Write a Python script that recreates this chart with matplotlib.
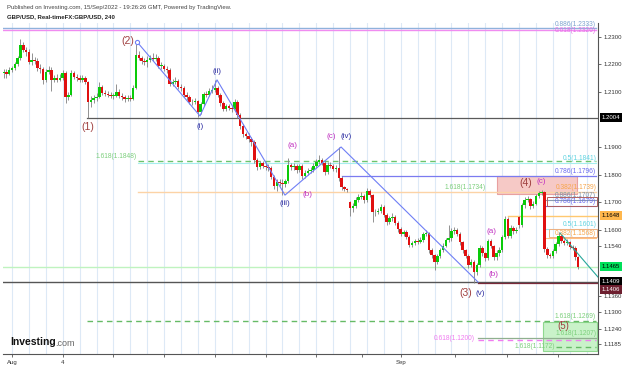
import numpy as np
import matplotlib.pyplot as plt
from matplotlib.patches import Rectangle

plt.rcParams['font.family'] = ['Liberation Sans', 'DejaVu Sans']

# 4H candles, GBP/USD, from the last bars of Jul 29 to Sep 15
first_open = 1.2169
closes = np.array([
    1.2173, 1.2165, 1.2180,
    1.2187, 1.2202, 1.2224, 1.2271, 1.2253, 1.2245,   # Aug 1
    1.2209, 1.2216, 1.2213, 1.2187, 1.2184, 1.2144,
    1.2173, 1.2180, 1.2144, 1.2151, 1.2144, 1.2151,
    1.2169, 1.2082, 1.2089, 1.2169, 1.2155, 1.2151,
    1.2144, 1.2151, 1.2136, 1.2064, 1.2071, 1.2078,
    1.2082, 1.2118, 1.2096, 1.2093, 1.2089, 1.2085,   # Aug 8
    1.2085, 1.2100, 1.2085, 1.2082, 1.2075, 1.2078,
    1.2075, 1.2115, 1.2235, 1.2224, 1.2213, 1.2209,
    1.2216, 1.2224, 1.2220, 1.2224, 1.2195, 1.2195,
    1.2184, 1.2180, 1.2129, 1.2136, 1.2140, 1.2118,
    1.2115, 1.2089, 1.2082, 1.2064, 1.2062, 1.2066,   # Aug 15
    1.2027, 1.2056, 1.2093, 1.2089, 1.2104, 1.2107,
    1.2115, 1.2089, 1.2060, 1.2038, 1.2049, 1.2042,
    1.2038, 1.2064, 1.2016, 1.1976, 1.1947, 1.1940,
    1.1929, 1.1918, 1.1853, 1.1827, 1.1842, 1.1831,
    1.1827, 1.1824, 1.1791, 1.1758, 1.1773, 1.1769,   # Aug 22
    1.1766, 1.1776, 1.1835, 1.1827, 1.1831, 1.1816,
    1.1831, 1.1795, 1.1805, 1.1813, 1.1816, 1.1831,
    1.1845, 1.1853, 1.1842, 1.1809, 1.1835, 1.1831,
    1.1820, 1.1824, 1.1787, 1.1755, 1.1747, 1.1745,
    1.1678, 1.1685, 1.1707, 1.1718, 1.1722, 1.1707,   # Aug 29
    1.1740, 1.1725, 1.1664, 1.1662, 1.1667, 1.1682,
    1.1653, 1.1627, 1.1642, 1.1645, 1.1624, 1.1602,
    1.1584, 1.1591, 1.1573, 1.1544, 1.1551, 1.1558,   # Sep 1
    1.1556, 1.1562, 1.1584, 1.1587, 1.1525, 1.1507,
    1.1482, 1.1504, 1.1525, 1.1540, 1.1562, 1.1569,   # Sep 5
    1.1595, 1.1598, 1.1584, 1.1555, 1.1525, 1.1504,
    1.1471, 1.1482, 1.1445, 1.1471, 1.1533, 1.1515,
    1.1496, 1.1558, 1.1540, 1.1500, 1.1515, 1.1525,
    1.1573, 1.1638, 1.1576, 1.1605, 1.1595, 1.1598,
    1.1616, 1.1689, 1.1707, 1.1711, 1.1685, 1.1693,   # Sep 12
    1.1722, 1.1733, 1.1736, 1.1529, 1.1507, 1.1505,
    1.1522, 1.1547, 1.1576, 1.1558, 1.1551, 1.1555,
    1.1536, 1.1534, 1.1500, 1.1465,
])
highs = np.array([
    1.2185, 1.2182, 1.2190,
    1.2196, 1.2210, 1.2232, 1.2293, 1.2282, 1.2262,
    1.2255, 1.2240, 1.2226, 1.2222, 1.2200, 1.2192,
    1.2185, 1.2195, 1.2190, 1.2160, 1.2165, 1.2165,
    1.2180, 1.2175, 1.2100, 1.2180, 1.2176, 1.2165,
    1.2160, 1.2162, 1.2158, 1.2140, 1.2085, 1.2090,
    1.2095, 1.2135, 1.2125, 1.2108, 1.2102, 1.2100,
    1.2098, 1.2130, 1.2112, 1.2095, 1.2090, 1.2088,
    1.2090, 1.2125, 1.2276, 1.2250, 1.2232, 1.2225,
    1.2230, 1.2236, 1.2240, 1.2238, 1.2230, 1.2210,
    1.2202, 1.2196, 1.2188, 1.2148, 1.2155, 1.2148,
    1.2130, 1.2122, 1.2100, 1.2090, 1.2075, 1.2078,
    1.2072, 1.2065, 1.2100, 1.2105, 1.2115, 1.2125,
    1.2143, 1.2122, 1.2095, 1.2068, 1.2058, 1.2055,
    1.2050, 1.2075, 1.2070, 1.2022, 1.1982, 1.1955,
    1.1950, 1.1935, 1.1925, 1.1860, 1.1850, 1.1850,
    1.1845, 1.1838, 1.1830, 1.1798, 1.1782, 1.1785,
    1.1782, 1.1785, 1.1860, 1.1842, 1.1842, 1.1838,
    1.1840, 1.1838, 1.1815, 1.1822, 1.1826, 1.1842,
    1.1855, 1.1870, 1.1860, 1.1848, 1.1845, 1.1845,
    1.1838, 1.1835, 1.1900, 1.1795, 1.1760, 1.1752,
    1.1705, 1.1698, 1.1720, 1.1728, 1.1735, 1.1730,
    1.1750, 1.1748, 1.1730, 1.1675, 1.1678, 1.1692,
    1.1688, 1.1660, 1.1650, 1.1660, 1.1652, 1.1630,
    1.1610, 1.1600, 1.1598, 1.1580, 1.1560, 1.1566,
    1.1568, 1.1572, 1.1592, 1.1600, 1.1592, 1.1532,
    1.1512, 1.1512, 1.1532, 1.1550, 1.1570, 1.1616,
    1.1605, 1.1610, 1.1605, 1.1590, 1.1560, 1.1530,
    1.1510, 1.1492, 1.1488, 1.1480, 1.1545, 1.1540,
    1.1520, 1.1565, 1.1565, 1.1545, 1.1525, 1.1535,
    1.1580, 1.1650, 1.1645, 1.1615, 1.1612, 1.1608,
    1.1650, 1.1698, 1.1718, 1.1722, 1.1716, 1.1702,
    1.1730, 1.1740, 1.1742, 1.1740, 1.1535, 1.1515,
    1.1530, 1.1555, 1.1590, 1.1582, 1.1565, 1.1565,
    1.1560, 1.1545, 1.1540, 1.1505,
])
lows = np.array([
    1.2150, 1.2152, 1.2160,
    1.2172, 1.2180, 1.2196, 1.2218, 1.2245, 1.2232,
    1.2200, 1.2198, 1.2200, 1.2176, 1.2170, 1.2130,
    1.2138, 1.2165, 1.2104, 1.2135, 1.2138, 1.2140,
    1.2145, 1.2060, 1.2070, 1.2085, 1.2148, 1.2140,
    1.2135, 1.2138, 1.2128, 1.2004, 1.2045, 1.2060,
    1.2068, 1.2078, 1.2090, 1.2085, 1.2080, 1.2078,
    1.2076, 1.2080, 1.2078, 1.2070, 1.2065, 1.2068,
    1.2066, 1.2070, 1.2110, 1.2215, 1.2200, 1.2198,
    1.2190, 1.2210, 1.2212, 1.2212, 1.2186, 1.2185,
    1.2175, 1.2168, 1.2120, 1.2122, 1.2128, 1.2110,
    1.2104, 1.2080, 1.2072, 1.2055, 1.2052, 1.2055,
    1.2010, 1.2020, 1.2050, 1.2080, 1.2085, 1.2098,
    1.2100, 1.2080, 1.2050, 1.2030, 1.2032, 1.2034,
    1.2028, 1.2032, 1.2005, 1.1965, 1.1938, 1.1930,
    1.1920, 1.1905, 1.1842, 1.1815, 1.1820, 1.1822,
    1.1818, 1.1812, 1.1782, 1.1748, 1.1740, 1.1760,
    1.1727, 1.1755, 1.1770, 1.1818, 1.1818, 1.1805,
    1.1808, 1.1782, 1.1788, 1.1798, 1.1805, 1.1810,
    1.1825, 1.1840, 1.1835, 1.1800, 1.1802, 1.1822,
    1.1812, 1.1810, 1.1778, 1.1745, 1.1740, 1.1738,
    1.1648, 1.1665, 1.1678, 1.1700, 1.1710, 1.1698,
    1.1700, 1.1718, 1.1627, 1.1650, 1.1655, 1.1660,
    1.1645, 1.1618, 1.1620, 1.1632, 1.1615, 1.1592,
    1.1575, 1.1578, 1.1565, 1.1535, 1.1538, 1.1545,
    1.1548, 1.1550, 1.1555, 1.1575, 1.1515, 1.1498,
    1.1453, 1.1475, 1.1498, 1.1518, 1.1535, 1.1555,
    1.1560, 1.1585, 1.1575, 1.1545, 1.1515, 1.1495,
    1.1460, 1.1462, 1.1406, 1.1435, 1.1465, 1.1505,
    1.1485, 1.1490, 1.1532, 1.1490, 1.1490, 1.1505,
    1.1518, 1.1565, 1.1568, 1.1570, 1.1585, 1.1588,
    1.1605, 1.1610, 1.1680, 1.1700, 1.1675, 1.1678,
    1.1688, 1.1715, 1.1725, 1.1520, 1.1495, 1.1495,
    1.1498, 1.1515, 1.1540, 1.1550, 1.1542, 1.1545,
    1.1528, 1.1525, 1.1490, 1.1458,
])
gap_opens = {123: 1.1700, 183: 1.1645}

# Elliott wave pivots (trading days since Aug 1)
wave_days = [7.40, 11.12, 12.13, 16.15, 19.47, 27.57]
wave_prices = [1.2282, 1.2013, 1.2144, 1.1725, 1.1900, 1.1409]
trend_days = [32.43, 34.67]
trend_prices = [1.1587, 1.1427]

xtick_days = [0, 3, 6, 9, 12, 15, 18, 20.7, 23, 26.2, 29.3, 32.3]
xtick_labels = ['Aug', '4', '', '', '', '', '', '', 'Sep', '', '', '']
ytick_prices = [1.2300, 1.2200, 1.2100, 1.1900, 1.1800, 1.1700, 1.1600,
                1.1540, 1.1360, 1.1300, 1.1240, 1.1185]

# horizontal levels: price, start day, end day, colour, style, width
levels = [
    (1.2333, -0.6, 34.56, '#8fb2dc', '-', 1.0),
    (1.2326, -0.6, 34.56, '#f08cf0', '-', 1.0),
    (1.2004, 4.44, 34.7, '#5a5a5a', '-', 0.9),
    (1.1848, 7.46, 34.56, '#6cc46c', (0, (4, 3)), 1.0),
    (1.1841, 7.46, 34.56, '#a6eeee', '-', 0.8),
    (1.1737, 7.46, 34.56, '#fcd3a6', '-', 1.0),
    (1.1796, 19.53, 34.56, '#7b7bf0', '-', 0.9),
    (1.1707, 31.6, 34.56, '#8a9ab0', '-', 0.8),
    (1.1687, 31.6, 34.56, '#6a6af0', '-', 0.8),
    (1.1648, 29.35, 34.7, '#ffc870', '-', 1.0),
    (1.1601, 31.6, 34.56, '#9ae6f0', '-', 0.8),
    (1.1568, 31.6, 34.56, '#ffbf80', '-', 0.8),
    (1.1465, -0.6, 34.7, '#bff3bf', '-', 1.0),
    (1.1409, -0.6, 34.7, '#555555', '-', 1.0),
    (1.1404, 27.57, 34.7, '#7a2a3a', '-', 0.9),
    (1.1269, 4.44, 34.56, '#66bb66', (0, (4, 3)), 1.0),
    (1.1207, 27.57, 34.56, '#8fb08f', '-', 0.9),
    (1.1200, 27.57, 34.56, '#f07cf0', (0, (4, 3)), 1.0),
    (1.1172, 32.19, 34.56, '#66bb66', (0, (4, 3)), 1.0),
]
level_texts = [
    ('0.886(1.2333)', 34.56, 1.2334, '#7ea3cf', 'right', 'bottom'),
    ('0.618(1.2326)', 34.56, 1.2323, '#e86ee8', 'right', 'center'),
    ('1.618(1.1848)', 7.35, 1.1851, '#7ccf7c', 'right', 'bottom'),
    ('0.5(1.1841)', 34.56, 1.1844, '#5fd3e0', 'right', 'bottom'),
    ('0.786(1.1796)', 34.56, 1.1799, '#6a6af0', 'right', 'bottom'),
    ('1.618(1.1734)', 26.8, 1.1739, '#7ccf7c', 'center', 'bottom'),
    ('0.382(1.1739)', 34.56, 1.1740, '#f7a54a', 'right', 'bottom'),
    ('0.886(1.1707)', 34.56, 1.1710, '#7890a8', 'right', 'bottom'),
    ('0.786(1.1679)', 34.56, 1.1690, '#6a6af0', 'right', 'bottom'),
    ('0.5(1.1601)', 34.56, 1.1604, '#5fd3e0', 'right', 'bottom'),
    ('0.382(1.1568)', 34.56, 1.1572, '#f7a54a', 'right', 'bottom'),
    ('1.618(1.1269)', 34.56, 1.1272, '#7ccf7c', 'right', 'bottom'),
    ('1.618(1.1207)', 34.56, 1.1208, '#7ccf7c', 'right', 'bottom'),
    ('0.618(1.1200)', 27.4, 1.1205, '#f07cf0', 'right', 'center'),
    ('1.618(1.1172)', 32.15, 1.1175, '#7ccf7c', 'right', 'center'),
]
wave_texts = [
    ('(1)', 4.5, 1.1973, '#a04040', 7.5), ('(2)', 6.86, 1.2285, '#a04040', 7.5),
    ('(3)', 26.86, 1.1369, '#a04040', 7.5), ('(4)', 30.4, 1.1769, '#a04040', 7.5),
    ('(5)', 32.6, 1.1250, '#a04040', 7.0),
    ('(i)', 11.12, 1.1976, '#2b2ba0', 5.8), ('(ii)', 12.13, 1.2173, '#2b2ba0', 5.8),
    ('(iii)', 16.15, 1.1693, '#2b2ba0', 5.8), ('(iv)', 19.75, 1.1940, '#2b2ba0', 5.8),
    ('(v)', 27.68, 1.1369, '#2b2ba0', 5.8),
    ('(c)', 18.9, 1.1940, '#c030c0', 5.8), ('(a)', 16.57, 1.1907, '#c030c0', 5.8),
    ('(b)', 17.46, 1.1729, '#c030c0', 5.8), ('(a)', 28.34, 1.1591, '#c030c0', 5.8),
    ('(b)', 28.5, 1.1438, '#c030c0', 5.8), ('(c)', 31.3, 1.1776, '#c030c0', 5.8),
]
axis_boxes = [
    ('1.2004', 1.2007, '#000000', 'white'),
    ('1.1648', 1.1651, '#ffb74d', 'black'),
    ('1.1465', 1.1466, '#00e05a', 'black'),
    ('1.1409', 1.1410, '#000000', 'white'),
    ('1.1406', 1.1381, '#6d1f2f', 'white'),
]

W, H = 625, 366
fig = plt.figure(figsize=(W / 100, H / 100), dpi=100)
ax = fig.add_axes([3 / W, 12 / H, 595 / W, 331 / H])

n = len(closes)
days = (np.arange(n) - 3) / 6.0
opens = np.r_[first_open, closes[:-1]]
for k, v in gap_opens.items():
    opens[k] = v
highs = np.maximum(highs, np.maximum(opens, closes))
lows = np.minimum(lows, np.minimum(opens, closes))

for d in range(0, 35):
    ax.axvline(d, color='#dde9f6', lw=0.8, zorder=0)

up = closes >= opens
body = np.maximum(np.abs(closes - opens), 0.00025)
ax.vlines(days, lows, highs, color='#808080', lw=0.6, zorder=3)
ax.bar(days[up], body[up], bottom=opens[up], width=0.15, color='#0acb0a', zorder=4)
ax.bar(days[~up], body[~up], bottom=closes[~up], width=0.15, color='#e01010', zorder=4)

for p, x0, x1, c, ls, lw in levels:
    ax.plot([x0, x1], [p, p], color=c, ls=ls, lw=lw, zorder=2)
for t, x, y, c, ha, va in level_texts:
    ax.text(x, y, t, color=c, ha=ha, va=va, fontsize=4.8, zorder=6)

ax.add_patch(Rectangle((28.70, 1.1730), 33.43 - 28.70, 1.1796 - 1.1730,
                       fc='#f6c9c6', ec='#e8a0a0', lw=0.8, zorder=1))
ax.add_patch(Rectangle((31.42, 1.1160), 34.62 - 31.42, 1.1264 - 1.1160,
                       fc='#c9f2c9', ec='#8fd88f', lw=0.8, zorder=1))
ax.add_patch(Rectangle((31.66, 1.1685), 34.62 - 31.66, 1.1718 - 1.1685,
                       fc='none', ec='#b06060', lw=0.7, zorder=2))
ax.add_patch(Rectangle((31.75, 1.1573), 34.62 - 31.75, 1.1602 - 1.1573,
                       fc='none', ec='#f0b080', lw=0.7, zorder=2))

ax.plot(wave_days, wave_prices, color='#6f7ff5', lw=0.8, zorder=5)
ax.plot(wave_days[0], wave_prices[0], 'o', mfc='white', mec='#6f7ff5', ms=3, mew=0.8, zorder=6)
ax.plot(trend_days, trend_prices, color='#26a69a', lw=0.8, zorder=5)

for t, x, y, c, fs in wave_texts:
    ax.text(x, y, t, color=c, ha='center', va='center', fontsize=fs, zorder=7)

ax.set_xlim(-0.533, 34.67)
ax.set_ylim(1.11473, 1.23509)
ax.yaxis.tick_right()
ax.set_yticks(ytick_prices)
ax.set_yticklabels([f'{p:.4f}' for p in ytick_prices])
ax.set_xticks(xtick_days)
ax.set_xticklabels(xtick_labels)
ax.tick_params(axis='both', labelsize=4.3, colors='#555555', labelcolor='#333333',
               length=2.5, width=0.6, pad=1.5)
for s in ['top', 'left']:
    ax.spines[s].set_visible(False)
for s in ['right', 'bottom']:
    ax.spines[s].set_color('#555555')
    ax.spines[s].set_linewidth(0.8)

ytr = ax.get_yaxis_transform()
for t, p, bg, fg in axis_boxes:
    ax.text(1.006, p, t, transform=ytr, ha='left', va='center', fontsize=4.3,
            color=fg, zorder=8, clip_on=False,
            bbox=dict(boxstyle='square,pad=0.3', fc=bg, ec='none'))

fig.text(7 / W, 1 - 7 / H, 'Published on Investing.com, 15/Sep/2022 - 19:26:26 GMT, Powered by TradingView.',
         fontsize=4.3, color='#444444', va='center')
fig.text(7 / W, 1 - 17 / H, 'GBP/USD, Real-timeFX:GBP/USD, 240',
         fontsize=4.3, fontweight='bold', color='#222222', va='center')
fig.text(10 / W, 1 - 342 / H, 'Investing', fontsize=7.5, fontweight='bold', color='#111111', va='center')
fig.text(55 / W, 1 - 343 / H, '.com', fontsize=6.5, color='#666666', va='center')

fig.savefig('out.png', dpi=100)
